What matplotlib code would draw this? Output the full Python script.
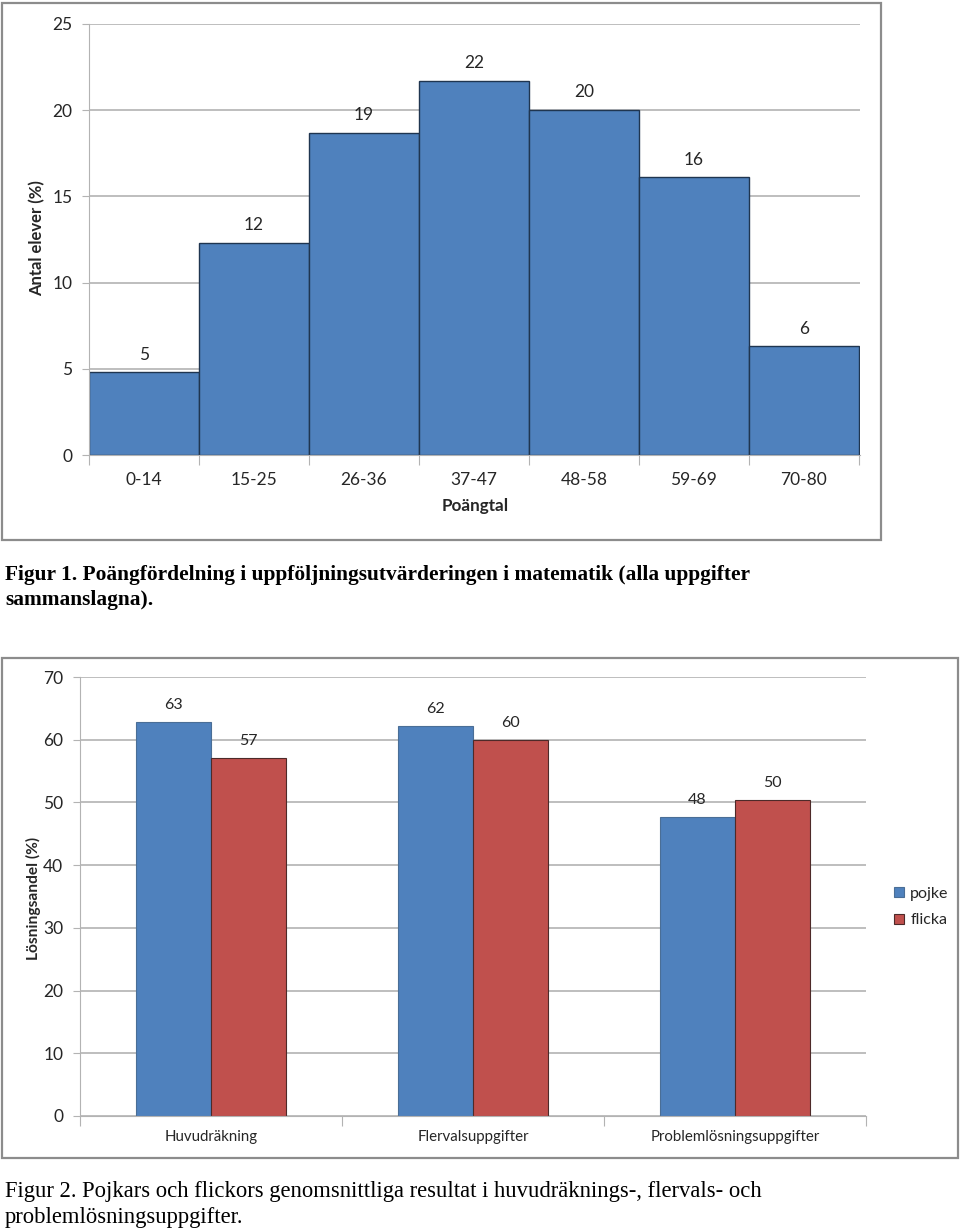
import matplotlib.pyplot as plt
from matplotlib.patches import Rectangle
import numpy as np

# Figur 1 data
bins = ['0-14', '15-25', '26-36', '37-47', '48-58', '59-69', '70-80']
andel = [4.8, 12.3, 18.7, 21.7, 20.0, 16.1, 6.3]
andel_labels = ['5', '12', '19', '22', '20', '16', '6']

# Figur 2 data
kategorier = ['Huvudräkning', 'Flervalsuppgifter', 'Problemlösningsuppgifter']
pojke = [62.8, 62.2, 47.7]
flicka = [57.1, 60.0, 50.4]
pojke_labels = ['63', '62', '48']
flicka_labels = ['57', '60', '50']

BLUE = '#4F81BD'
RED = '#C0504D'
GRID = '#B3B3B3'
TXT = '#262626'
SANS = 'Lato'
W, H = 960, 1232

fig = plt.figure(figsize=(9.6, 12.32), dpi=100)


def box(x0, y0, x1, y1):
    return [x0 / W, 1 - y1 / H, (x1 - x0) / W, (y1 - y0) / H]


def frame(x0, y0, x1, y1):
    fig.patches.append(Rectangle((x0 / W, 1 - y1 / H), (x1 - x0) / W, (y1 - y0) / H,
                                 transform=fig.transFigure, fill=False,
                                 edgecolor='#8C8C8C', lw=1.6))


def style(ax, size):
    for s in ['top', 'right']:
        ax.spines[s].set_visible(False)
    ax.spines['left'].set_color(GRID)
    ax.spines['bottom'].set_color(GRID)
    ax.yaxis.grid(True, color=GRID, lw=1.2)
    ax.set_axisbelow(True)
    ax.tick_params(axis='y', length=5, color=GRID, labelsize=size, labelcolor=TXT, pad=7)
    for t in ax.get_yticklabels():
        t.set_fontfamily(SANS)


# ---------- Figur 1 ----------
frame(2, 3, 881, 540)
ax1 = fig.add_axes(box(89, 24, 860, 455))
x = np.arange(len(bins))
bars = ax1.bar(x, andel, width=1.0, align='edge', color=BLUE, edgecolor='#1F3550', lw=1.0)
ax1.set_xlim(0, 7.01)
ax1.set_ylim(0, 25)
ax1.set_yticks([0, 5, 10, 15, 20, 25])
ax1.set_xticks(np.arange(0, 8))
ax1.set_xticklabels([])
ax1.set_xticks(x + 0.5, minor=True)
ax1.set_xticklabels(bins, minor=True, fontfamily=SANS, fontsize=12.5, color=TXT)
ax1.tick_params(axis='x', which='major', length=7, color=GRID)
ax1.tick_params(axis='x', which='minor', length=0, pad=12)
style(ax1, 12.5)
for b, lab in zip(bars, andel_labels):
    ax1.annotate(lab, (b.get_x() + 0.5, b.get_height()), xytext=(0, 7),
                 textcoords='offset points', ha='center', va='bottom',
                 fontfamily=SANS, fontsize=12.5, color=TXT)
fig.text(37 / W, 1 - 238 / H, 'Antal elever (%)', rotation=90, ha='center', va='center',
         fontfamily=SANS, fontweight='bold', fontsize=12, color=TXT)
fig.text(475 / W, 1 - 506 / H, 'Poängtal', ha='center', va='center',
         fontfamily=SANS, fontweight='bold', fontsize=12.3, color=TXT)

fig.text(5 / W, 1 - 575 / H,
         'Figur 1. Poängfördelning i uppföljningsutvärderingen i matematik (alla uppgifter',
         ha='left', va='center', fontfamily='Liberation Serif', fontweight='bold',
         fontsize=15.4, color='black')
fig.text(5 / W, 1 - 600 / H, 'sammanslagna).', ha='left', va='center',
         fontfamily='Liberation Serif', fontweight='bold', fontsize=15.4, color='black')

# ---------- Figur 2 ----------
frame(2, 658, 958, 1158)
ax2 = fig.add_axes(box(80, 677, 866, 1116))
xc = np.arange(len(kategorier))
bw = 0.287
b1 = ax2.bar(xc - bw / 2, pojke, width=bw, color=BLUE, edgecolor='#4A6E96', lw=0.8, label='pojke')
b2 = ax2.bar(xc + bw / 2, flicka, width=bw, color=RED, edgecolor='#4D2A29', lw=0.8, label='flicka')
ax2.set_xlim(-0.5, 2.5)
ax2.set_ylim(0, 70)
ax2.set_yticks(np.arange(0, 71, 10))
ax2.set_xticks([-0.5, 0.5, 1.5, 2.5])
ax2.set_xticklabels([])
ax2.set_xticks(xc, minor=True)
ax2.set_xticklabels(kategorier, minor=True, fontfamily=SANS, fontsize=10.8, color=TXT)
ax2.tick_params(axis='x', which='major', length=7, color=GRID)
ax2.tick_params(axis='x', which='minor', length=0, pad=10)
style(ax2, 12.5)
for bars_, labs in [(b1, pojke_labels), (b2, flicka_labels)]:
    for b, lab in zip(bars_, labs):
        ax2.annotate(lab, (b.get_x() + b.get_width() / 2, b.get_height()), xytext=(0, 7),
                     textcoords='offset points', ha='center', va='bottom',
                     fontfamily=SANS, fontsize=11.5, color=TXT)
fig.text(33 / W, 1 - 898 / H, 'Lösningsandel (%)', rotation=90, ha='center', va='center',
         fontfamily=SANS, fontweight='bold', fontsize=11.2, color=TXT)
fig.legend(handles=[b1, b2], loc='center left', bbox_to_anchor=(880 / W, 1 - 907 / H),
           frameon=False, prop={'family': SANS, 'size': 11.5}, handlelength=0.6,
           handleheight=0.6, handletextpad=0.4, labelspacing=0.8, labelcolor=TXT)

fig.text(5 / W, 1 - 1192 / H,
         'Figur 2. Pojkars och flickors genomsnittliga resultat i huvudräknings-, flervals- och',
         ha='left', va='center', fontfamily='Liberation Serif', fontsize=16.3, color='black')
fig.text(5 / W, 1 - 1217 / H, 'problemlösningsuppgifter.', ha='left', va='center',
         fontfamily='Liberation Serif', fontsize=16.3, color='black')

fig.savefig('out.png', dpi=100)
